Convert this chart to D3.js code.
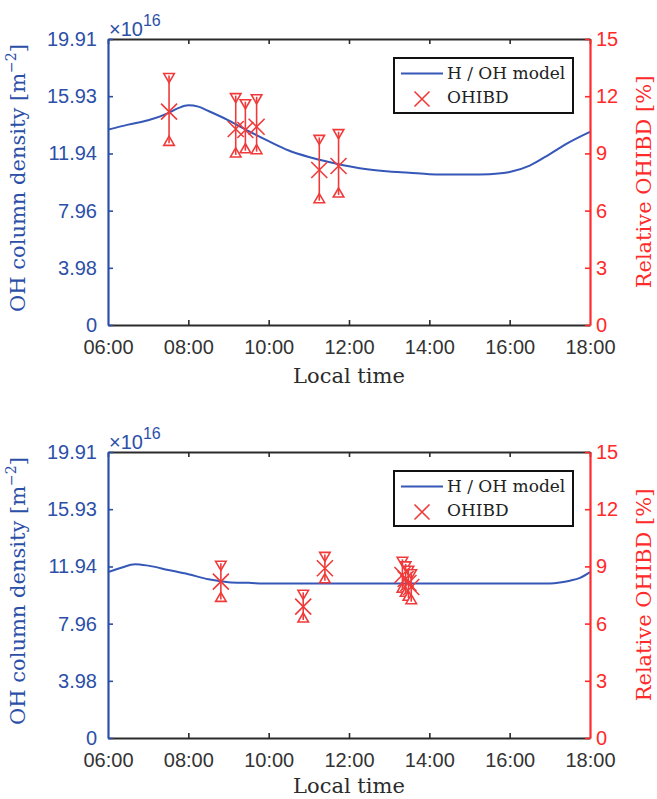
<!DOCTYPE html>
<html>
<head>
<meta charset="utf-8">
<script src="https://cdn.jsdelivr.net/npm/d3@7"></script>
<style>
  html, body { margin: 0; padding: 0; background: #fff; }
  svg { display: block; }
</style>
</head>
<body>
<svg id="chart" width="657" height="799"></svg>
<script>
// ---- data ----------------------------------------------------------------
// Local time (hours) for the x axis
const timeTicks = [6, 8, 10, 12, 14, 16, 18];
const timeTickLabels = ["06:00", "08:00", "10:00", "12:00", "14:00", "16:00", "18:00"];

// Left axis: OH column density (x 1e16 m^-2)
const densityTicks = [0, 3.98, 7.96, 11.94, 15.93, 19.91];
const densityTickLabels = ["0", "3.98", "7.96", "11.94", "15.93", "19.91"];
// Right axis: relative OHIBD (%)
const relativeTicks = [0, 3, 6, 9, 12, 15];

// Panel 1 — H/OH model column density
const model1Time = [6.0, 6.5, 7.0, 7.5, 7.75, 8.0, 8.25, 8.5, 9.0, 9.5, 10.0, 10.5, 11.0, 11.5, 12.0, 12.5, 13.0, 13.5, 14.0, 14.5, 15.0, 15.5, 16.0, 16.5, 17.0, 17.5, 18.0];
const model1Density = [13.6, 13.95, 14.25, 14.75, 15.1, 15.3, 15.2, 14.9, 14.25, 13.5, 12.8, 12.15, 11.7, 11.35, 11.05, 10.82, 10.68, 10.6, 10.5, 10.48, 10.47, 10.5, 10.65, 11.1, 11.9, 12.75, 13.45];

// Panel 1 — OHIBD observations (%), with upper / lower error limits
const obs1Time = [7.52, 9.18, 9.42, 9.70, 11.26, 11.74];
const obs1Value = [11.19, 10.28, 10.23, 10.40, 8.13, 8.34];
const obs1Upper = [13.08, 12.03, 11.71, 11.97, 9.84, 10.14];
const obs1Lower = [9.53, 8.92, 9.14, 9.09, 6.52, 6.82];

// Panel 2 — H/OH model column density
const model2Time = [6.0, 6.33, 6.67, 7.0, 7.5, 8.0, 8.5, 9.0, 9.5, 10.0, 11.0, 12.0, 13.0, 14.0, 15.0, 16.0, 17.0, 17.25, 17.5, 17.75, 18.0];
const model2Density = [11.55, 11.85, 12.1, 12.0, 11.7, 11.4, 11.05, 10.85, 10.8, 10.75, 10.75, 10.75, 10.75, 10.75, 10.75, 10.75, 10.76, 10.82, 10.95, 11.15, 11.55];

// Panel 2 — OHIBD observations (%), with upper / lower error limits
const obs2Time = [8.81, 10.86, 11.40, 13.33, 13.41, 13.48, 13.55];
const obs2Value = [8.20, 6.89, 8.90, 8.55, 8.34, 8.13, 7.92];
const obs2Upper = [9.16, 7.64, 9.63, 9.37, 9.13, 8.90, 8.72];
const obs2Lower = [7.27, 6.19, 8.25, 7.76, 7.54, 7.33, 7.15];

// ---- styling ---------------------------------------------------------------
const BLUE = "#2c4fa8";
const LINE_BLUE = "#3557b8";
const RED = "#ff2a2a";
const MARK_RED = "#f03a3a";
const DARK = "#2b2b2b";
const SANS = "'Liberation Sans', Arial, sans-serif";
const SERIF = "'DejaVu Serif', serif";

const svg = d3.select("#chart");

const plotLeft = 108, plotRight = 590, plotHeight = 286;

const x = d3.scaleLinear().domain([6, 18]).range([plotLeft, plotRight]);

function drawPanel(top, xTitleGap, modelTime, modelDensity, obsTime, obsValue, obsUpper, obsLower) {
  const bottom = top + plotHeight;
  const yL = d3.scaleLinear().domain([0, 19.91]).range([bottom, top]);
  const yR = d3.scaleLinear().domain([0, 15]).range([bottom, top]);
  const g = svg.append("g");

  // model curve
  const model = modelTime.map((t, i) => [t, modelDensity[i]]);
  g.append("path")
    .datum(model)
    .attr("fill", "none")
    .attr("stroke", LINE_BLUE)
    .attr("stroke-width", 2)
    .attr("d", d3.line().x(d => x(d[0])).y(d => yL(d[1])).curve(d3.curveMonotoneX));

  // observations with error bars
  const obs = obsTime.map((t, i) => ({ t, v: obsValue[i], hi: obsUpper[i], lo: obsLower[i] }));
  const og = g.append("g").attr("stroke", MARK_RED).attr("fill", "none").attr("stroke-width", 1.6);
  const tri = d3.symbol().type(d3.symbolTriangle).size(48);
  og.selectAll("path.hi").data(obs).join("path")
    .attr("fill", "#fff")
    .attr("d", tri)
    .attr("transform", d => `translate(${x(d.t)},${yR(d.hi) + 1}) rotate(180)`);
  og.selectAll("path.lo").data(obs).join("path")
    .attr("fill", "#fff")
    .attr("d", tri)
    .attr("transform", d => `translate(${x(d.t)},${yR(d.lo) - 1})`);
  // error bar drawn through the end triangles
  og.selectAll("line.bar").data(obs).join("line")
    .attr("x1", d => x(d.t)).attr("x2", d => x(d.t))
    .attr("y1", d => yR(d.hi)).attr("y2", d => yR(d.lo));
  const s = 8;
  og.selectAll("path.cross").data(obs).join("path")
    .attr("d", d => {
      const cx = x(d.t), cy = yR(d.v);
      return `M${cx - s},${cy - s}L${cx + s},${cy + s}M${cx - s},${cy + s}L${cx + s},${cy - s}`;
    });

  // top axis (box edge, ticks inward)
  const topAxis = d3.axisTop(x).tickValues(timeTicks).tickSizeInner(-5).tickSizeOuter(0).tickFormat("");
  const ta = g.append("g").attr("transform", `translate(0,${top})`).call(topAxis);
  ta.select(".domain").attr("stroke", DARK).attr("stroke-width", 2);
  ta.selectAll(".tick line").attr("stroke", DARK).attr("stroke-width", 1.6);

  // bottom axis
  const botAxis = d3.axisBottom(x).tickValues(timeTicks).tickSizeInner(-5).tickSizeOuter(0)
    .tickFormat((d, i) => timeTickLabels[i]);
  const ba = g.append("g").attr("transform", `translate(0,${bottom})`).call(botAxis);
  ba.select(".domain").attr("stroke", DARK).attr("stroke-width", 2);
  ba.selectAll(".tick line").attr("stroke", DARK).attr("stroke-width", 1.6);
  ba.selectAll(".tick text").attr("font-family", SANS).attr("font-size", 20).attr("fill", "#333")
    .attr("y", 15).attr("dy", "0.71em");
  ba.selectAll(".tick").filter(d => d === 6 || d === 18).select("line").remove();

  // left axis
  const leftAxis = d3.axisLeft(yL).tickValues(densityTicks).tickSizeInner(-5).tickSizeOuter(0)
    .tickFormat((d, i) => densityTickLabels[i]);
  const la = g.append("g").attr("transform", `translate(${plotLeft},0)`).call(leftAxis);
  la.select(".domain").attr("stroke", BLUE).attr("stroke-width", 2.2);
  la.selectAll(".tick line").attr("stroke", BLUE).attr("stroke-width", 1.6);
  la.selectAll(".tick text").attr("font-family", SANS).attr("font-size", 20).attr("fill", BLUE)
    .attr("x", -11);

  // right axis
  const rightAxis = d3.axisRight(yR).tickValues(relativeTicks).tickSizeInner(-5).tickSizeOuter(0);
  const ra = g.append("g").attr("transform", `translate(${plotRight},0)`).call(rightAxis);
  ra.select(".domain").attr("stroke", RED).attr("stroke-width", 2.2);
  ra.selectAll(".tick line").attr("stroke", RED).attr("stroke-width", 1.6);
  ra.selectAll(".tick text").attr("font-family", SANS).attr("font-size", 20).attr("fill", RED)
    .attr("x", 6);

  // exponent label
  const ex = g.append("text").attr("x", plotLeft + 1).attr("y", top - 3)
    .attr("font-family", SANS).attr("fill", BLUE).attr("font-size", 20);
  ex.append("tspan").text("\u00d710");
  ex.append("tspan").attr("font-size", 16).attr("dy", -10).text("16");

  // axis titles
  const lt = g.append("text")
    .attr("transform", `translate(25,${(top + bottom) / 2 - 4}) rotate(-90)`)
    .attr("text-anchor", "middle").attr("font-family", SERIF).attr("font-size", 21).attr("fill", BLUE);
  lt.append("tspan").text("OH column density [m");
  lt.append("tspan").attr("font-size", 14).attr("dy", -9).text("\u22122");
  lt.append("tspan").attr("dy", 9).text("]");

  g.append("text")
    .attr("transform", `translate(651,${(top + bottom) / 2}) rotate(-90)`)
    .attr("text-anchor", "middle").attr("font-family", SERIF).attr("font-size", 21).attr("fill", RED)
    .text("Relative OHIBD [%]");

  g.append("text").attr("x", (plotLeft + plotRight) / 2).attr("y", bottom + xTitleGap)
    .attr("text-anchor", "middle").attr("font-family", SERIF).attr("font-size", 21).attr("fill", DARK)
    .text("Local time");

  // legend
  const lg = g.append("g").attr("transform", `translate(394,${top + 19})`);
  lg.append("rect").attr("width", 179).attr("height", 55).attr("fill", "#fff")
    .attr("stroke", "#111").attr("stroke-width", 2);
  lg.append("line").attr("x1", 7).attr("x2", 49).attr("y1", 15.5).attr("y2", 15.5)
    .attr("stroke", LINE_BLUE).attr("stroke-width", 2);
  lg.append("text").attr("x", 53).attr("y", 21).attr("font-family", SERIF).attr("font-size", 17)
    .attr("fill", "#222").text("H / OH model");
  const lx = 28, ly = 41, ls = 7.5;
  lg.append("path")
    .attr("d", `M${lx - ls},${ly - ls}L${lx + ls},${ly + ls}M${lx - ls},${ly + ls}L${lx + ls},${ly - ls}`)
    .attr("stroke", MARK_RED).attr("stroke-width", 1.6).attr("fill", "none");
  lg.append("text").attr("x", 53).attr("y", 45).attr("font-family", SERIF).attr("font-size", 17)
    .attr("fill", "#222").text("OHIBD");
}

drawPanel(39, 58, model1Time, model1Density, obs1Time, obs1Value, obs1Upper, obs1Lower);
drawPanel(452, 55, model2Time, model2Density, obs2Time, obs2Value, obs2Upper, obs2Lower);
</script>
</body>
</html>
